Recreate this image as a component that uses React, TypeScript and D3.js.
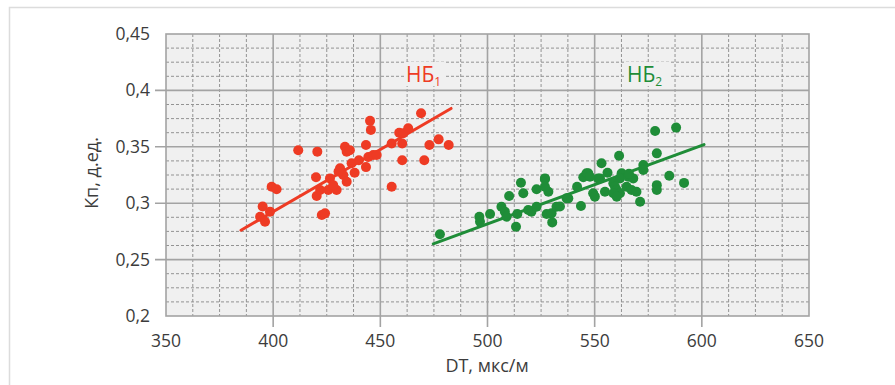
import React from "react";
import * as d3 from "d3";

const xTicks = [350, 400, 450, 500, 550, 600, 650];
const yTicks = [0.2, 0.25, 0.3, 0.35, 0.4, 0.45];
const yTickLabels = ["0,2", "0,25", "0,3", "0,35", "0,4", "0,45"];

const redX = [411.7, 420.6, 399.3, 401.6, 395.1, 393.9, 396.2, 398.5, 420, 420.3, 422.7, 424.2, 421.9, 425.7, 429.6, 426.5, 431.2, 432.7, 434.3, 433.5, 434.3, 435.8, 436.6, 443.3, 443.3, 445.2, 445.6, 444.4, 446.7, 448.3, 455.3, 455.3, 458.8, 460.7, 460.2, 460.2, 463, 469, 470.5, 472.9, 477.2, 481.9, 428, 438, 430.5, 440];
const redY = [0.347, 0.3457, 0.3146, 0.3123, 0.297, 0.288, 0.2836, 0.2925, 0.323, 0.3064, 0.2895, 0.291, 0.3117, 0.3117, 0.3117, 0.322, 0.331, 0.325, 0.319, 0.35, 0.3457, 0.347, 0.3354, 0.3516, 0.332, 0.373, 0.365, 0.341, 0.3427, 0.3427, 0.3146, 0.353, 0.3625, 0.362, 0.353, 0.338, 0.3664, 0.3797, 0.338, 0.3516, 0.3566, 0.3516, 0.316, 0.327, 0.328, 0.338];

const greenX = [477.8, 496.2, 496.5, 501.2, 506.5, 508.1, 508.9, 510.1, 513.3, 513.9, 515.6, 516.7, 519, 520.5, 522.9, 522.9, 526.8, 528.4, 527.6, 529.9, 532.2, 530.2, 536.9, 541.8, 543.6, 544.7, 547, 549.3, 550.1, 551.6, 553.2, 554.8, 578.2, 588, 579, 561.4, 572.7, 572.7, 584.8, 591.7, 579, 579, 546.2, 547.8, 552.5, 562.6, 561.8, 565.7, 568, 558.7, 559.5, 560.3, 561.8, 558.7, 560.3, 564.9, 567.2, 569.5, 571.2, 526.8, 526.8, 537.7, 533.8, 556, 566];
const greenY = [0.2724, 0.288, 0.2836, 0.2904, 0.2969, 0.2925, 0.288, 0.3064, 0.2792, 0.2904, 0.3182, 0.3088, 0.294, 0.2925, 0.2969, 0.3123, 0.3212, 0.3102, 0.2904, 0.291, 0.2969, 0.283, 0.3043, 0.3146, 0.2975, 0.323, 0.3265, 0.3088, 0.3058, 0.322, 0.3354, 0.3102, 0.364, 0.367, 0.3442, 0.342, 0.3339, 0.3294, 0.3244, 0.318, 0.316, 0.3117, 0.3265, 0.3235, 0.322, 0.3265, 0.322, 0.3235, 0.322, 0.3176, 0.3146, 0.3117, 0.3088, 0.3088, 0.3058, 0.3146, 0.3117, 0.3102, 0.3013, 0.322, 0.3146, 0.3043, 0.297, 0.327, 0.326];

const redTrendX = [385, 483];
const redTrendY = [0.276, 0.384];
const greenTrendX = [474.7, 601];
const greenTrendY = [0.264, 0.352];

const RED = "#ee3b24";
const GREEN = "#1f8d38";
const TEXT = "#3c3c3c";
const FONT = "'Open Sans', 'Noto Sans', sans-serif";

export default function App() {
  const x = d3.scaleLinear().domain([350, 650]).range([166, 809]);
  const y = d3.scaleLinear().domain([0.2, 0.45]).range([316, 34]);
  const [x0, x1] = x.range();
  const [y0, y1] = [y(0.45), y(0.2)];

  const minorX = d3.range(350, 650.01, 12.5).filter((v) => Math.abs(v % 50) > 0.01);
  const minorY = d3.range(0, 21).map((i) => 0.2 + i * 0.0125).filter((v, i) => i % 4 !== 0);

  const line = d3.line<[number, number]>().x((d) => x(d[0])).y((d) => y(d[1]));
  const redTrend = d3.zip(redTrendX, redTrendY) as [number, number][];
  const greenTrend = d3.zip(greenTrendX, greenTrendY) as [number, number][];

  return (
    <svg width={895} height={385} style={{ position: "absolute", left: 0, top: 0, background: "#fff" }} fontFamily={FONT}>
      <rect x={9.5} y={7.5} width={900} height={400} fill="none" stroke="#dcdcdc" strokeWidth={1.5} />
      <rect x={x0} y={y0} width={x1 - x0} height={y1 - y0} fill="#f0f0f0" />
      {minorX.map((v) => (
        <line key={"mx" + v} x1={x(v)} x2={x(v)} y1={y0} y2={y1} stroke="#939393" strokeWidth={1} strokeDasharray="3,2" />
      ))}
      {minorY.map((v, i) => (
        <line key={"my" + i} x1={x0} x2={x1} y1={y(v)} y2={y(v)} stroke="#939393" strokeWidth={1} strokeDasharray="3,2" />
      ))}
      {xTicks.slice(1, -1).map((v) => (
        <line key={"Mx" + v} x1={x(v)} x2={x(v)} y1={y0} y2={y1 + 11} stroke="#a3a3a3" strokeWidth={1.6} />
      ))}
      {yTicks.slice(1, -1).map((v) => (
        <line key={"My" + v} x1={x0 - 11} x2={x1} y1={y(v)} y2={y(v)} stroke="#a3a3a3" strokeWidth={1.6} />
      ))}
      <rect x={x0} y={y0} width={x1 - x0} height={y1 - y0} fill="none" stroke="#a3a3a3" strokeWidth={1.6} />

      {xTicks.map((v) => (
        <text key={"xt" + v} x={x(v)} y={347} textAnchor="middle" fontSize={17.5} fill={TEXT}>
          {v}
        </text>
      ))}
      {yTicks.map((v, i) => (
        <text key={"yt" + v} x={150} y={y(v) + 6} textAnchor="end" fontSize={17.5} fill={TEXT}>
          {yTickLabels[i]}
        </text>
      ))}
      <text x={487} y={372} textAnchor="middle" fontSize={18} fill={TEXT}>
        DT, мкс/м
      </text>
      <text transform="translate(98,173) rotate(-90)" textAnchor="middle" fontSize={18} fill={TEXT}>
        Кп, д.ед.
      </text>

      <path d={line(redTrend) || ""} stroke={RED} strokeWidth={3} fill="none" strokeLinecap="round" />
      <path d={line(greenTrend) || ""} stroke={GREEN} strokeWidth={3} fill="none" strokeLinecap="round" />
      {redX.map((v, i) => (
        <circle key={"r" + i} cx={x(v)} cy={y(redY[i])} r={5} fill={RED} />
      ))}
      {greenX.map((v, i) => (
        <circle key={"g" + i} cx={x(v)} cy={y(greenY[i])} r={5} fill={GREEN} />
      ))}

      <rect x={404} y={62} width={42} height={24} fill="#f0f0f0" />
      <text x={406} y={82} fontSize={21} fill={RED}>
        НБ<tspan fontSize={12} dy={4}>1</tspan>
      </text>
      <rect x={625} y={62} width={46} height={24} fill="#f0f0f0" />
      <text x={627} y={82} fontSize={21} fill={GREEN}>
        НБ<tspan fontSize={12} dy={4}>2</tspan>
      </text>
    </svg>
  );
}
